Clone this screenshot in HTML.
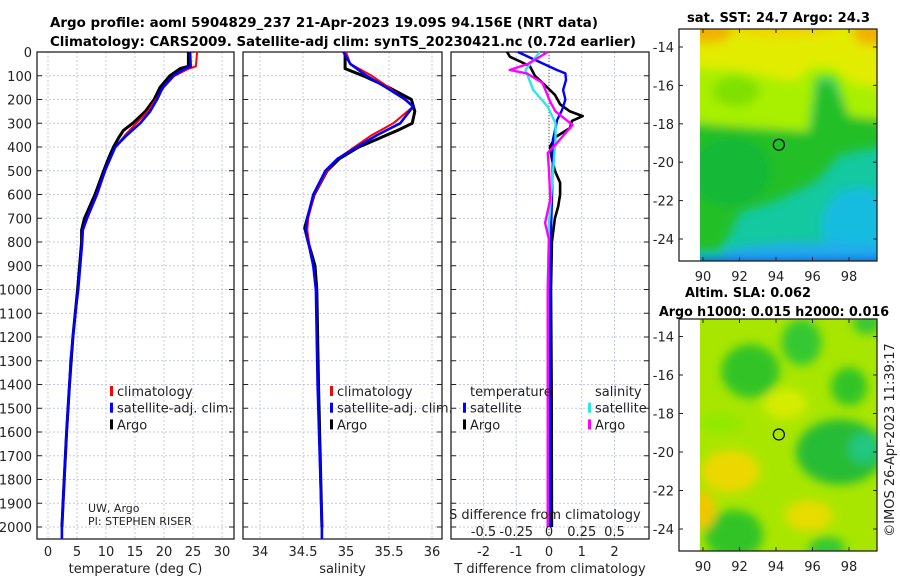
<!DOCTYPE html>
<html><head><meta charset="utf-8"><style>
html,body{margin:0;padding:0;background:#fff;width:900px;height:580px;overflow:hidden}
svg text{font-family:"DejaVu Sans","Liberation Sans",sans-serif;fill:#222}
.t{font-weight:bold;font-size:13.5px;fill:#000}
.tk{font-size:13px}
</style></head><body>
<svg id="fig" width="900" height="580" viewBox="0 0 900 580" xmlns="http://www.w3.org/2000/svg">
<text class="t" x="50" y="27" textLength="548" lengthAdjust="spacingAndGlyphs">Argo profile: aoml 5904829_237 21-Apr-2023 19.09S 94.156E (NRT data)</text>
<text class="t" x="50" y="46" textLength="586" lengthAdjust="spacingAndGlyphs">Climatology: CARS2009. Satellite-adj clim: synTS_20230421.nc (0.72d earlier)</text>
<g id="panels"></g>
<g id="maps"></g>
<text class="tk" transform="translate(894,440) rotate(-90)" text-anchor="middle">©IMOS 26-Apr-2023 11:39:17</text>
</svg>
<script>
// ---- data ----
const tempDepth  = [0,60,70,100,150,200,250,300,350,400,500,600,700,750,800,1000,1100,1200,1300,1400,1600,1800,2000,2050];
const tempClim   = [25.7,25.5,24.3,21.8,19.9,18.6,17.2,15.2,13.3,11.6,9.9,8.5,6.8,6.0,5.9,5.2,4.7,4.3,3.9,3.7,3.2,2.8,2.4,2.4];
const tempSat    = [24.5,24.6,23.6,21.6,19.8,18.8,17.6,15.9,13.6,11.6,9.8,8.4,6.7,6.0,5.9,5.2,4.7,4.3,3.9,3.7,3.2,2.8,2.4,2.4];
const argoTDepth = [0,60,70,100,150,200,250,300,330,360,400,450,500,600,700,750,800,1000,1200,1400,1600,1800,2000];
const argoTemp   = [24.2,24.2,22.8,21.0,19.3,18.3,16.8,14.6,13.0,12.2,11.3,10.4,9.6,8.1,6.3,5.8,5.8,5.1,4.3,3.7,3.2,2.8,2.4];
const salDepth   = [0,50,100,150,200,230,300,350,400,450,500,600,700,750,800,900,1000,1400,2000,2050];
const salClim    = [35.0,35.05,35.3,35.5,35.68,35.78,35.55,35.3,35.1,34.9,34.78,34.63,34.56,34.55,34.57,34.62,34.65,34.67,34.72,34.72];
const salSat     = [34.97,35.05,35.24,35.47,35.69,35.78,35.63,35.36,35.13,34.9,34.76,34.62,34.55,34.53,34.56,34.62,34.65,34.67,34.72,34.72];
const argoSDepth = [0,70,100,150,200,250,300,330,400,450,500,600,700,740,800,900,1000,1400,2000];
const argoSal    = [34.99,34.99,35.2,35.5,35.76,35.8,35.77,35.6,35.15,34.92,34.78,34.63,34.55,34.52,34.56,34.64,34.66,34.68,34.72];
const dTDepth    = [0,76,90,118,160,200,244,286,370,455,623,750,1000,2000];
const dTSat      = [-0.95,0.24,0.5,0.52,0.43,0.5,0.4,0.25,0.12,0.12,0.09,0.06,0.04,0.03];
const dTArgoD    = [0,20,40,60,100,140,180,220,250,270,290,320,360,400,450,500,550,600,650,700,800,1000,1400,2000];
const dTArgo     = [-1.28,-1.19,-0.88,-0.58,-0.43,-0.12,0.18,0.34,0.64,1.03,0.7,0.64,0.18,0.03,0.09,0.18,0.34,0.34,0.28,0.18,0.09,0.06,0.08,0.09];
const dSDepth    = [0,76,160,230,300,370,510,720,1000,2000];
const dSSat      = [-0.07,-0.18,-0.12,-0.01,0.05,0.05,0.03,0.0,-0.01,-0.01];
const dSArgoD    = [0,50,76,90,130,210,250,307,383,425,500,620,720,790,1000,2000];
const dSArgo     = [-0.01,-0.16,-0.3,-0.17,-0.05,0.01,0.05,0.18,0.06,-0.01,0.0,0.01,-0.03,0.0,-0.01,-0.01];
const depthTicks = [0,100,200,300,400,500,600,700,800,900,1000,1100,1200,1300,1400,1500,1600,1700,1800,1900,2000];
const tempTicks  = [0,5,10,15,20,25,30];
const salTicks   = [34,34.5,35,35.5,36];
const dTTicks    = [-2,-1,0,1,2];
const dSTicks    = [-0.5,-0.25,0,0.25,0.5];
const dSTickLabels = ["-0.5","-0.25","0","0.25","0.5"];

const NS='http://www.w3.org/2000/svg';
function mk(tag,attrs,parent){const e=document.createElementNS(NS,tag);for(const k in attrs)e.setAttribute(k,attrs[k]);parent.appendChild(e);return e;}
const Y=d=>52+d*0.2375;
const P1={x0:37,x1:234,f:v=>48+v*5.8};
const P2={x0:243,x1:442,f:v=>260+(v-34)*86};
const P3={x0:451,x1:649,f:v=>549+v*32.75};
const fS=v=>549+v*131;
const g=document.getElementById('panels');

function panel(P,ticks,labels,title,name){
  const grp=mk('g',{},g);
  
  
  depthTicks.forEach(d=>{const l=mk('line',{x1:P.x0,x2:P.x1,y1:Y(d),y2:Y(d),stroke:'#c4c8e6','stroke-width':1,'stroke-dasharray':'2,2'},grp);
    
    mk('line',{x1:P.x0,x2:P.x0+5,y1:Y(d),y2:Y(d),stroke:'#222'},grp);mk('line',{x1:P.x1-5,x2:P.x1,y1:Y(d),y2:Y(d),stroke:'#222'},grp);});
  ticks.forEach((t,i)=>{const x=P.f(t);const l=mk('line',{x1:x,x2:x,y1:52,y2:539,stroke:'#c4c8e6','stroke-width':1,'stroke-dasharray':'2,2'},grp);
    
    const tx=mk('text',{x:x,y:556,'text-anchor':'middle',class:'tk'},grp);tx.textContent=labels[i];
    });
  const r=mk('rect',{x:P.x0,y:52,width:P.x1-P.x0,height:487,fill:'none',stroke:'#222','stroke-width':1.3},grp);
  
  const tt=mk('text',{x:(P.x0+P.x1)/2,y:573,'text-anchor':'middle',class:'tk'},grp);tt.textContent=title;
  
  return grp;
}
function line(grp,xs,ds,f,col,w,name){
  const pts=xs.map((v,i)=>f(v).toFixed(1)+','+Y(ds[i]).toFixed(1)).join(' ');
  const p=mk('polyline',{points:pts,fill:'none',stroke:col,'stroke-width':w,'stroke-linejoin':'round'},grp);
  
}
depthTicks.forEach(d=>{const t=mk('text',{x:32,y:Y(d)+5,'text-anchor':'end',class:'tk'},g);t.textContent=d;
  });

const g1=panel(P1,tempTicks,tempTicks.map(String),'temperature (deg C)','temperature-panel');
line(g1,argoTemp,argoTDepth,P1.f,'#000',3,'argo-temperature-line');
line(g1,tempClim,tempDepth,P1.f,'#f00',2,'climatology-temperature-line');
line(g1,tempSat,tempDepth,P1.f,'#00f',2.6,'satellite-temperature-line');
const g2=panel(P2,salTicks,salTicks.map(String),'salinity','salinity-panel');
line(g2,argoSal,argoSDepth,P2.f,'#000',3,'argo-salinity-line');
line(g2,salClim,salDepth,P2.f,'#f00',2,'climatology-salinity-line');
line(g2,salSat,salDepth,P2.f,'#00f',2.6,'satellite-salinity-line');
const g3=panel(P3,dTTicks,dTTicks.map(String),'T difference from climatology','difference-panel');
mk('line',{x1:549,x2:549,y1:52,y2:539,stroke:'#555','stroke-dasharray':'1,2'},g3);
line(g3,dTArgo,dTArgoD,P3.f,'#000',2.6,'argo-t-diff-line');
line(g3,dTSat,dTDepth,P3.f,'#00f',2.4,'satellite-t-diff-line');
line(g3,dSSat,dSDepth,fS,'#2ee6e6',2.4,'satellite-s-diff-line');
line(g3,dSArgo,dSArgoD,fS,'#f0f',2.4,'argo-s-diff-line');
dSTicks.forEach((t,i)=>{const tx=mk('text',{x:fS(t),y:536,'text-anchor':'middle',class:'tk'},g3);tx.textContent=dSTickLabels[i];
  });
const st=mk('text',{x:449,y:519,class:'tk'},g3);st.textContent='S difference from climatology';


function legend(x,y,items,name){
  const lg=mk('g',{},g);
  items.forEach((it,i)=>{ if(it[0]) mk('rect',{x:x,y:y+i*16.7-10,width:3,height:10,fill:it[0]},lg);
    const t=mk('text',{x:x+7,y:y+i*16.7,class:'tk'},lg);t.textContent=it[1];
    });
}
legend(110,396,[['#f00','climatology'],['#00f','satellite-adj. clim.'],['#000','Argo']],'temperature-legend');
legend(330,396,[['#f00','climatology'],['#00f','satellite-adj. clim.'],['#000','Argo']],'salinity-legend');
legend(463,396,[[null,'temperature'],['#00f','satellite'],['#000','Argo']],'t-diff-legend');
legend(588,396,[[null,'salinity'],['#2ee6e6','satellite'],['#f0f','Argo']],'s-diff-legend');
const c1=mk('text',{x:88,y:512,style:'font-size:11px'},g);c1.textContent='UW, Argo';
const c2=mk('text',{x:88,y:525,style:'font-size:11px'},g);c2.textContent='PI: STEPHEN RISER';



// ---- maps ----
const lonTicks=[90,92,94,96,98];
const sstLatTicks=[-14,-16,-18,-20,-22,-24];
const argoLon=94.156, argoLat=-19.09;
const M=document.getElementById('maps');
const defs=mk('defs',{},M);
const fl=mk('filter',{id:'bl',x:'-20%',y:'-20%',width:'140%',height:'140%'},defs);mk('feGaussianBlur',{stdDeviation:5},fl);
function map(top,bottom,latY,titles,shapes,base,name){
  const mg=mk('g',{},M);
  const X=lon=>703+(lon-90)*18.25;
  const cp=mk('clipPath',{id:'cp'+top},defs);mk('rect',{x:700,y:top,width:177,height:bottom-top},cp);
  const cg=mk('g',{'clip-path':'url(#cp'+top+')'},mg);
  mk('rect',{x:700,y:top,width:177,height:bottom-top,fill:base},cg);
  const bg=mk('g',{filter:'url(#bl)'},cg);
  shapes.forEach(s=>{
    if(s[0]==='e') mk('ellipse',{cx:X(s[1]),cy:latY(s[2]),rx:s[3]*18.25,ry:s[4]*19.2,fill:s[5]},bg);
    else mk('polygon',{points:s[1].map(p=>X(p[0])+','+latY(p[1])).join(' '),fill:s[2]},bg);
  });
  mk('rect',{x:679,y:top,width:198,height:bottom-top,fill:'none',stroke:'#222','stroke-width':1.3},mg);
  lonTicks.forEach(l=>{mk('line',{x1:X(l),x2:X(l),y1:bottom,y2:bottom-4,stroke:'#222'},mg);mk('line',{x1:X(l),x2:X(l),y1:top,y2:top+4,stroke:'#222'},mg);
    const t=mk('text',{x:X(l),y:bottom+20,'text-anchor':'middle',class:'tk'},mg);t.textContent=l;
    });
  sstLatTicks.forEach(l=>{mk('line',{x1:679,x2:683,y1:latY(l),y2:latY(l),stroke:'#222'},mg);mk('line',{x1:873,x2:877,y1:latY(l),y2:latY(l),stroke:'#222'},mg);
    const t=mk('text',{x:674,y:latY(l)+5,'text-anchor':'end',class:'tk'},mg);t.textContent=l;
    });
  const c=mk('circle',{cx:X(argoLon),cy:latY(argoLat),r:5.5,fill:'none',stroke:'#000','stroke-width':1.2},mg);
  
  titles.forEach(tt=>{const t=mk('text',{class:'t',x:tt[1],y:tt[2],textLength:tt[3],lengthAdjust:'spacingAndGlyphs'},mg);t.textContent=tt[0];
    });
}
map(29,261,lat=>47+(-14-lat)*19.2,[['sat. SST: 24.7 Argo: 24.3',687,22,183]],[
  ['p',[[88,-12],[101,-12],[101,-18],[98,-17.6],[97.2,-15.6],[96.2,-15.6],[95.8,-18.4],[92,-18.2],[88,-17.8]],'#a8f000'],
  ['p',[[88,-12],[101,-12],[101,-16.3],[98.3,-15.9],[97,-15],[96,-15],[95,-15.8],[92,-15.2],[88,-15.0]],'#e2ec00'],
  ['e',90.3,-13.2,1.3,0.6,'#f2b000'],['e',99.2,-13.2,1.0,0.7,'#f2b000'],['e',94.5,-13,3,0.5,'#f0d400'],
  ['e',91.8,-16.3,1.3,0.8,'#80e000'],
  ['p',[[88,-17.9],[95.9,-18.4],[96.3,-15.8],[97,-15.8],[98,-17.6],[101,-17.9],[101,-19],[97.5,-19.6],[96.2,-21],[94,-22],[92,-22.6],[91,-24.6],[88,-24.6]],'#22c028'],
  ['e',91.5,-20.5,2.2,1.8,'#14b838'],
  ['e',98.5,-23.3,2.0,2.0,'#18bce0'],['e',96,-24.8,5,0.6,'#20acec'],
  ['p',[[88,-25],[101,-25],[101,-26],[88,-26]],'#1060e0']
],'#14c8a0','sst-map');
map(319,551,lat=>336.5+(-14-lat)*19.25,[['Altim. SLA: 0.062',685,297,126],['Argo h1000: 0.015 h2000: 0.016',659,316,230]],[
  ['e',92.6,-15.8,1.6,1.4,'#30c428'],['e',95.4,-14.3,1.1,1.2,'#34c830'],['e',98,-16.6,1.0,1.0,'#30c428'],['e',99,-13.3,0.8,0.6,'#38c830'],
  ['e',97.5,-20,2.4,1.7,'#28bc34'],['e',98.8,-19.8,0.8,0.8,'#20c880'],
  ['e',91.7,-24.3,1.6,1.3,'#30c428'],['e',96.8,-25,1,0.6,'#34c830'],
  ['e',91.5,-21,1.6,1.1,'#ecd800'],['e',90,-23,0.7,1,'#f0c800'],['e',95.8,-23.3,1.3,0.8,'#e8dc00'],['e',94.5,-17.5,1.2,0.8,'#d4ec00'],
  ['e',91,-18.5,1.2,0.5,'#90e800']
],'#a8e600','sla-map');
</script>
</body></html>
